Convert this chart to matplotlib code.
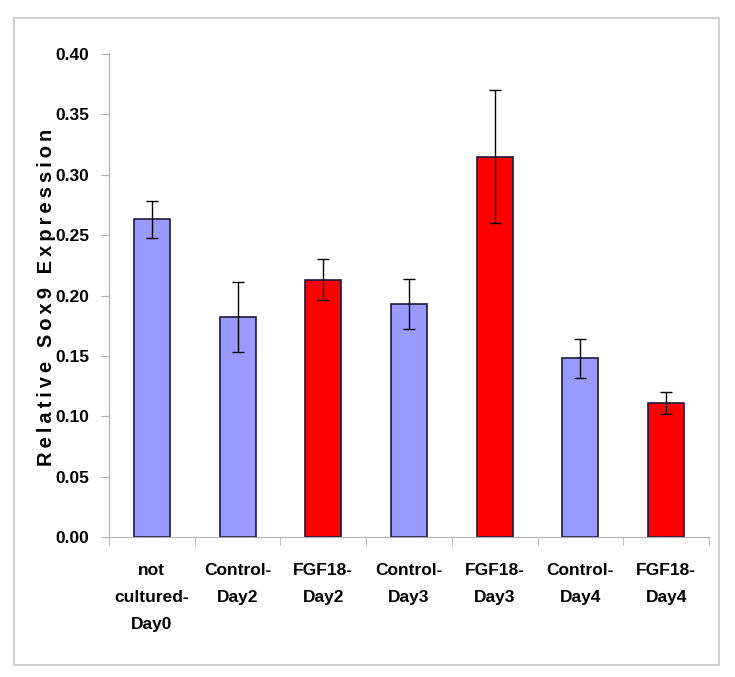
import numpy as np
import matplotlib.pyplot as plt
from matplotlib.patches import Rectangle

# data
categories = ["not\ncultured-\nDay0", "Control-\nDay2", "FGF18-\nDay2", "Control-\nDay3",
              "FGF18-\nDay3", "Control-\nDay4", "FGF18-\nDay4"]
values = [0.263, 0.182, 0.213, 0.193, 0.315, 0.148, 0.111]
errors = [0.015, 0.029, 0.017, 0.021, 0.055, 0.016, 0.009]
groups = ["control", "control", "fgf", "control", "fgf", "control", "fgf"]
yticks = [0.00, 0.05, 0.10, 0.15, 0.20, 0.25, 0.30, 0.35, 0.40]
ylabel = "Relative Sox9 Expression"

colors = {"control": "#9999FF", "fgf": "#FF0000"}
fams = ["Liberation Sans", "DejaVu Sans"]

fig = plt.figure(figsize=(7.35, 6.77), dpi=100)
fig.patches.append(Rectangle((14/735, 1-665/677), (719-14)/735, (665-18)/677,
                             transform=fig.transFigure, fill=False,
                             edgecolor="#c8c8c8", lw=1.2))
ax = fig.add_axes([109/735, 1-537/677, 600/735, 483/677])

x = np.arange(len(values))
ax.bar(x, values, width=0.42, color=[colors[g] for g in groups],
       edgecolor="#1a1a3a", linewidth=1.2, zorder=2)
ax.errorbar(x, values, yerr=errors, fmt="none", ecolor="black",
            elinewidth=1, capsize=4, capthick=1, zorder=3)

ax.set_xlim(-0.5, len(values) - 0.5)
ax.set_ylim(0, 0.40)
ax.set_yticks(yticks)
ax.set_yticklabels(["%.2f" % t for t in yticks], family=fams,
                   fontweight="bold", fontsize=12.5)
ax.set_xticks(x)
ax.set_xticklabels(categories, family=fams, fontweight="bold", fontsize=12.5,
                   linespacing=2.0)
ax.set_xticks(np.arange(len(values) + 1) - 0.5, minor=True)
ax.tick_params(axis="x", which="major", length=0, pad=19)
ax.tick_params(axis="x", which="minor", length=6, color="#b0b0b0")
ax.tick_params(axis="y", length=6, color="#b0b0b0", pad=8)

for s in ["top", "right"]:
    ax.spines[s].set_visible(False)
for s in ["left", "bottom"]:
    ax.spines[s].set_color("#b0b0b0")

# letter-spaced axis title, like the original
fig.text(46/735, 1-297/677, "\u2009".join(ylabel), rotation=90,
         ha="center", va="center", fontsize=14.5, fontweight="bold", family=fams)

fig.savefig("out.png", dpi=100)
